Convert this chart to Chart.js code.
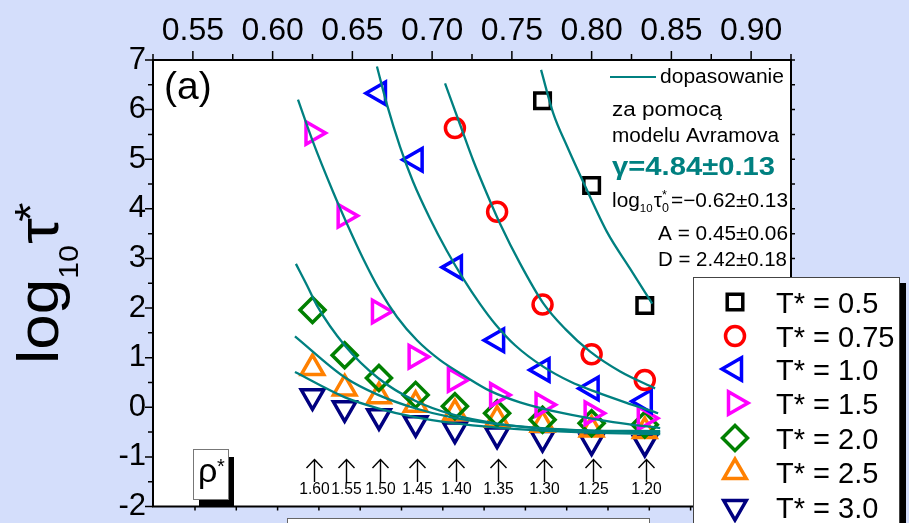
<!DOCTYPE html>
<html><head><meta charset="utf-8">
<script src="https://cdn.jsdelivr.net/npm/chart.js@4.4.1/dist/chart.umd.min.js"></script>
<style>html,body{margin:0;padding:0;background:#d4defb;overflow:hidden}</style>
</head><body><canvas id="c" width="909" height="523"></canvas>
<script>
// ---- data ----
const rho = [1.60, 1.55, 1.50, 1.45, 1.40, 1.35, 1.30, 1.25, 1.20];
const tempLabels = ['0.5', '0.75', '1.0', '1.5', '2.0', '2.5', '3.0'];
const logTau_T05  = [null, null, null, null, null, null, 6.18, 4.47, 2.05];
const logTau_T075 = [null, null, null, null, 5.63, 3.94, 2.07, 1.07, 0.55];
const logTau_T10  = [null, null, 6.33, 4.99, 2.82, 1.35, 0.75, 0.38, 0.12];
const logTau_T15  = [5.53, 3.86, 1.93, 1.02, 0.55, 0.25, 0.05, -0.12, -0.22];
const logTau_T20  = [1.96, 1.05, 0.59, 0.25, 0.02, -0.12, -0.25, -0.32, -0.35];
const logTau_T25  = [0.79, 0.38, 0.22, 0.05, -0.12, -0.25, -0.35, -0.45, -0.48];
const logTau_T30  = [0.22, -0.02, -0.18, -0.32, -0.45, -0.55, -0.62, -0.69, -0.72];

// fitted curves (x = 1/rho*, y = log10 tau*)
const fitX_T05  = [0.7683, 0.7759, 0.7846, 0.7959, 0.8097, 0.8242, 0.8380];
const fitY_T05  = [6.80, 5.93, 5.26, 4.46, 3.53, 2.79, 2.09];
const fitX_T075 = [0.7081, 0.7175, 0.7257, 0.7344, 0.7426, 0.7551, 0.7696, 0.7834, 0.7991, 0.8179, 0.8398];
const fitY_T075 = [6.53, 5.70, 4.98, 4.30, 3.70, 2.90, 2.10, 1.58, 1.12, 0.72, 0.38];
const fitX_T10  = [0.6654, 0.6717, 0.6799, 0.6880, 0.6987, 0.7093, 0.7194, 0.7301, 0.7395, 0.7520, 0.7696, 0.7865, 0.8035, 0.8210, 0.8417];
const fitY_T10  = [6.87, 6.10, 5.25, 4.55, 3.80, 3.15, 2.60, 2.08, 1.68, 1.25, 0.82, 0.52, 0.30, 0.10, -0.12];
const fitX_T15  = [0.6159, 0.6253, 0.6378, 0.6466, 0.6567, 0.6673, 0.6780, 0.6905, 0.7050, 0.7194, 0.7363, 0.7551, 0.7821, 0.8135, 0.8430];
const fitY_T15  = [6.20, 5.35, 4.35, 3.70, 3.00, 2.35, 1.82, 1.35, 0.95, 0.65, 0.33, 0.10, -0.12, -0.30, -0.42];
const fitX_T20  = [0.6146, 0.6215, 0.6278, 0.6454, 0.6661, 0.6893, 0.7131, 0.7407, 0.7689, 0.7991, 0.8430];
const fitY_T20  = [2.89, 2.46, 2.05, 1.24, 0.59, 0.13, -0.15, -0.33, -0.43, -0.47, -0.48];
const fitX_T25  = [0.6140, 0.6454, 0.6661, 0.6893, 0.7131, 0.7407, 0.7689, 0.7991, 0.8430];
const fitY_T25  = [1.43, 0.60, 0.25, -0.02, -0.21, -0.34, -0.42, -0.47, -0.51];
const fitX_T30  = [0.6140, 0.6454, 0.6661, 0.6893, 0.7131, 0.7407, 0.7689, 0.7991, 0.8430];
const fitY_T30  = [0.71, 0.20, -0.02, -0.20, -0.32, -0.41, -0.47, -0.51, -0.54];

const xTicks = [0.55, 0.60, 0.65, 0.70, 0.75, 0.80, 0.85, 0.90];
const yTicks = [-2, -1, 0, 1, 2, 3, 4, 5, 6, 7];

// ---- styles ----
const FONT = "'Liberation Sans', Arial, sans-serif";
const TEAL = '#008080';
const BG = '#d4defb';
const seriesStyle = [
  { c: '#000000', ps: 'rect',     r: 11,   rot: 0 },
  { c: '#ff0000', ps: 'circle',   r: 9.5,  rot: 0 },
  { c: '#0000ff', ps: 'triangle', r: 13,   rot: -90 },
  { c: '#ff00ff', ps: 'triangle', r: 13,   rot: 90 },
  { c: '#008000', ps: 'rectRot',  r: 12.5, rot: 0 },
  { c: '#ff8000', ps: 'triangle', r: 13,   rot: 0 },
  { c: '#000080', ps: 'triangle', r: 13,   rot: 180 }
];
const seriesVals = [logTau_T05, logTau_T075, logTau_T10, logTau_T15, logTau_T20, logTau_T25, logTau_T30];
const fits = [[fitX_T05, fitY_T05], [fitX_T075, fitY_T075], [fitX_T10, fitY_T10], [fitX_T15, fitY_T15],
              [fitX_T20, fitY_T20], [fitX_T25, fitY_T25], [fitX_T30, fitY_T30]];

const datasets = [];
fits.forEach((f, i) => {
  datasets.push({
    label: 'fit ' + tempLabels[i],
    data: f[0].map((x, k) => ({ x: x, y: f[1][k] })),
    showLine: true, pointRadius: 0, borderColor: TEAL, borderWidth: 2.3,
    cubicInterpolationMode: 'monotone', fill: false, order: 1
  });
});
seriesVals.forEach((vals, i) => {
  const st = seriesStyle[i];
  const pts = [];
  vals.forEach((v, k) => { if (v !== null) pts.push({ x: 1 / rho[k], y: v }); });
  datasets.push({
    label: 'T* = ' + tempLabels[i], data: pts, showLine: false,
    pointStyle: st.ps, pointRadius: st.r, pointRotation: st.rot,
    pointBorderColor: st.c, pointBackgroundColor: 'rgba(0,0,0,0)', pointBorderWidth: 3.5,
    order: 2
  });
});

// ---- helpers ----
function runs(ctx, x, y, list, opt) {
  opt = opt || {};
  let total = 0;
  list.forEach(r => { ctx.font = r.f; r.w = ctx.measureText(r.t).width; if (!r.na) total += r.w + (r.dx || 0); });
  const s = opt.target ? opt.target / total : (opt.scale || 1);
  ctx.save(); ctx.translate(x, y); ctx.scale(s, 1);
  ctx.textAlign = 'left'; ctx.textBaseline = 'alphabetic';
  let cx = 0;
  list.forEach(r => {
    ctx.font = r.f; ctx.fillStyle = r.c || '#000';
    ctx.fillText(r.t, cx + (r.dx || 0), r.dy || 0);
    if (!r.na) cx += r.w + (r.dx || 0);
  });
  ctx.restore();
}
function marker(ctx, st, x, y) {
  ctx.save(); ctx.strokeStyle = st.c; ctx.lineWidth = 3.5; ctx.beginPath();
  const r = st.r;
  if (st.ps === 'rect') { const s = r * Math.SQRT1_2; ctx.rect(x - s, y - s, 2 * s, 2 * s); }
  else if (st.ps === 'circle') { ctx.arc(x, y, r, 0, 2 * Math.PI); }
  else if (st.ps === 'rectRot') { ctx.moveTo(x - r, y); ctx.lineTo(x, y - r); ctx.lineTo(x + r, y); ctx.lineTo(x, y + r); ctx.closePath(); }
  else {
    let a = st.rot * Math.PI / 180;
    for (let k = 0; k < 3; k++) {
      const px = x + Math.sin(a) * r, py = y - Math.cos(a) * r;
      if (k) ctx.lineTo(px, py); else ctx.moveTo(px, py);
      a += 2 * Math.PI / 3;
    }
    ctx.closePath();
  }
  ctx.stroke(); ctx.restore();
}

const decor = {
  id: 'decor',
  beforeDraw(chart) {
    const ctx = chart.ctx, a = chart.chartArea;
    ctx.save();
    ctx.fillStyle = BG; ctx.fillRect(0, 0, chart.width, chart.height);
    ctx.fillStyle = '#fff'; ctx.fillRect(a.left, a.top, a.right - a.left, a.bottom - a.top);
    ctx.fillRect(287.5, 518.5, 362, 20);
    ctx.strokeStyle = '#666'; ctx.lineWidth = 1; ctx.strokeRect(287.5, 518.5, 362, 20);
    ctx.restore();
  },
  afterDraw(chart) {
    const ctx = chart.ctx, a = chart.chartArea;
    const xs = chart.scales.x, ys = chart.scales.y;
    ctx.save();
    ctx.strokeStyle = '#000'; ctx.lineWidth = 2;
    ctx.strokeRect(a.left, a.top, a.right - a.left, a.bottom - a.top);
    ctx.lineWidth = 1.5; ctx.beginPath();
    for (let k = 0; k <= 16; k++) {
      const v = 0.525 + k * 0.025;
      const px = xs.getPixelForValue(v);
      const len = (k % 2 === 1) ? 9 : 6;
      ctx.moveTo(px, a.top); ctx.lineTo(px, a.top - len);
    }
    for (let k = 0; k <= 18; k++) {
      const v = -2 + k * 0.5;
      const py = ys.getPixelForValue(v);
      const len = (k % 2 === 0) ? 8 : 5;
      ctx.moveTo(a.left, py); ctx.lineTo(a.left - len, py);
      ctx.moveTo(a.right, py); ctx.lineTo(a.right + 4, py);
    }
    for (let px = 195; px < 693; px += 41.3) { ctx.moveTo(px, a.bottom); ctx.lineTo(px, a.bottom + 4); }
    ctx.stroke();

    ctx.fillStyle = '#000'; ctx.font = '39px ' + FONT; ctx.textAlign = 'left'; ctx.textBaseline = 'alphabetic';
    ctx.fillText('(a)', 164, 99);

    ctx.strokeStyle = TEAL; ctx.lineWidth = 2.2; ctx.beginPath(); ctx.moveTo(610, 77); ctx.lineTo(656, 77); ctx.stroke();
    const f20 = '20px ' + FONT, f12 = '12px ' + FONT;
    runs(ctx, 660, 83, [{ t: 'dopasowanie', f: f20 }], { target: 124 });
    runs(ctx, 612, 116, [{ t: 'za pomocą', f: f20 }], { target: 110 });
    runs(ctx, 612, 142, [{ t: 'modelu Avramova', f: f20 }], { target: 167 });
    runs(ctx, 612, 175, [{ t: 'γ=4.84±0.13', f: 'bold 25px ' + FONT, c: TEAL }], { target: 163 });
    runs(ctx, 612, 207, [
      { t: 'log', f: f20 }, { t: '10', f: '11px ' + FONT, dy: 5 },
      { t: 'τ', f: f20, dx: 1 }, { t: '*', f: f12, dy: -8, na: true }, { t: '0', f: f12, dy: 5 },
      { t: '=−0.62±0.13', f: f20, dx: 2 }], { target: 176 });
    runs(ctx, 658, 240, [{ t: 'A = 0.45±0.06', f: f20 }], { target: 130 });
    runs(ctx, 658, 266, [{ t: 'D = 2.42±0.18', f: f20 }], { target: 129 });

    ctx.fillStyle = '#000'; ctx.fillRect(199, 457, 35, 49);
    ctx.fillStyle = '#fff'; ctx.fillRect(193, 449, 35, 50);
    ctx.strokeStyle = '#777'; ctx.lineWidth = 1; ctx.strokeRect(193.5, 449.5, 35, 50);
    ctx.fillStyle = '#000'; ctx.font = '34px ' + FONT; ctx.fillText('ρ', 198, 482);
    ctx.font = '20px ' + FONT; ctx.fillText('*', 217, 473);

    ctx.strokeStyle = '#000'; ctx.lineWidth = 1.4; ctx.textAlign = 'center';
    ctx.font = '17px ' + FONT;
    rho.forEach(r => {
      const px = Math.round(xs.getPixelForValue(1 / r)) + 1.5;
      ctx.beginPath();
      ctx.moveTo(px, 460); ctx.lineTo(px, 482);
      ctx.moveTo(px - 8, 468); ctx.lineTo(px, 459.5); ctx.lineTo(px + 8, 468);
      ctx.stroke();
      ctx.save(); ctx.translate(px, 494); ctx.scale(0.92, 1); ctx.fillText(r.toFixed(2), 0, 0); ctx.restore();
    });
    ctx.textAlign = 'left';

    ctx.fillStyle = '#000'; ctx.fillRect(899, 283, 7, 250);
    ctx.fillStyle = '#fff'; ctx.fillRect(693, 277, 207, 260);
    ctx.strokeStyle = '#444'; ctx.lineWidth = 1; ctx.strokeRect(693.5, 277.5, 206, 260);
    const rows = [302, 336, 369, 403, 438, 472, 507];
    rows.forEach((ry, i) => {
      marker(ctx, seriesStyle[i], 735, ry);
      ctx.fillStyle = '#000'; ctx.font = '29px ' + FONT;
      ctx.fillText('T* = ' + tempLabels[i], 776, ry + 10.5);
    });

    ctx.save();
    ctx.translate(58, 364); ctx.rotate(-Math.PI / 2);
    runs(ctx, 0, 0, [
      { t: 'log', f: '57px ' + FONT }, { t: '10', f: '27px ' + FONT, dy: 20 },
      { t: 'τ', f: '58px ' + FONT, dx: 1 }, { t: '*', f: '44px ' + FONT, dy: -12, dx: -3 }], { scale: 1.12 });
    ctx.restore();

    ctx.restore();
  }
};

new Chart(document.getElementById('c'), {
  type: 'scatter',
  data: { datasets: datasets },
  options: {
    responsive: false, animation: false, devicePixelRatio: 1, events: [],
    layout: { padding: { left: 0, right: 118, top: 0, bottom: 14 } },
    plugins: { legend: { display: false }, tooltip: { enabled: false } },
    scales: {
      x: {
        type: 'linear', position: 'top', min: 0.525, max: 0.925,
        grid: { display: false, drawTicks: true, tickLength: 9 },
        border: { display: false },
        afterBuildTicks: s => { s.ticks = xTicks.map(v => ({ value: v })); },
        afterFit: s => { s.height = 60; s.paddingLeft = 0; s.paddingRight = 0; },
        ticks: { color: '#000', padding: 1, font: { family: FONT, size: 32 }, callback: v => Number(v).toFixed(2), maxRotation: 0, autoSkip: false }
      },
      y: {
        type: 'linear', position: 'left', min: -2, max: 7,
        grid: { display: false, drawTicks: true, tickLength: 7 },
        border: { display: false },
        afterBuildTicks: s => { s.ticks = yTicks.map(v => ({ value: v })); },
        afterFit: s => { s.width = 153; s.paddingTop = 0; s.paddingBottom = 0; },
        ticks: { color: '#000', padding: 0, font: { family: FONT, size: 31 }, callback: v => String(v), autoSkip: false }
      }
    }
  },
  plugins: [decor]
});
</script>
</body></html>
